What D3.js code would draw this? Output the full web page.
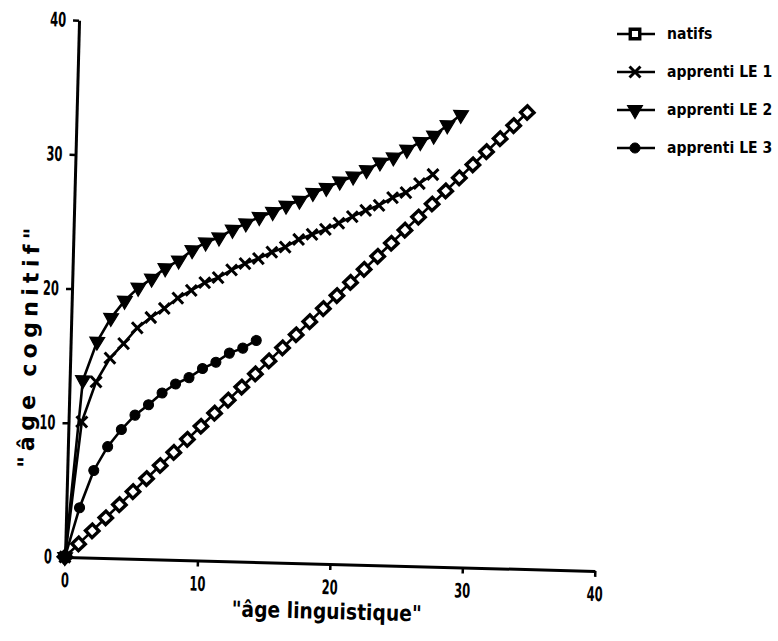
<!DOCTYPE html>
<html>
<head>
<meta charset="utf-8">
<script src="https://cdn.jsdelivr.net/npm/d3@7"></script>
<style>
  body { margin: 0; background: #fff; }
  svg { display: block; }
  text { font-family: "DejaVu Sans", "Liberation Sans", sans-serif; font-weight: bold; fill: #000; }
</style>
</head>
<body>
<div id="chart"></div>
<script>
// values
const natifsX = [0,1,2,3,4,5,6,7,8,9,10,11,12,13,14,15,16,17,18,19,20,21,22,23,24,25,26,27,28,29,30,31,32,33,34];
const natifsY = [0,1,2,3,4,5,6,7,8,9,10,11,12,13,14,15,16,17,18,19,20,21,22,23,24,25,26,27,28,29,30,31,32,33,34];

const le1X = [0,1,2,3,4,5,6,7,8,9,10,11,12,13,14,15,16,17,18,19,20,21,22,23,24,25,26,27];
const le1Y = [0,10.1,13.1,14.9,16.0,17.2,18.0,18.7,19.5,20.1,20.7,21.1,21.7,22.2,22.6,23.1,23.5,24.1,24.5,24.9,25.4,25.9,26.4,26.8,27.4,27.8,28.5,29.2];

const le2X = [0,1,2,3,4,5,6,7,8,9,10,11,12,13,14,15,16,17,18,19,20,21,22,23,24,25,26,27,28,29];
const le2Y = [0,13.2,16.1,17.9,19.2,20.2,20.9,21.7,22.3,23.1,23.7,24.1,24.7,25.2,25.7,26.1,26.6,27.0,27.6,28.0,28.5,28.9,29.4,30.0,30.4,31.0,31.6,32.1,32.9,33.7];

const le3X = [0,1,2,3,4,5,6,7,8,9,10,11,12,13,14];
const le3Y = [0,3.7,6.5,8.3,9.6,10.7,11.5,12.4,13.1,13.6,14.3,14.8,15.5,15.9,16.5];

const axisTicks = [0, 10, 20, 30, 40];
const seriesNames = ["natifs", "apprenti LE 1", "apprenti LE 2", "apprenti LE 3"];

const width = 778, height = 641;
const x0 = 65, y0 = 557;

const svg = d3.select("#chart").append("svg")
    .attr("width", width)
    .attr("height", height);

const xScale = d3.scaleLinear().domain([0, 40]).range([x0, 595]);
const yScale = d3.scaleLinear().domain([0, 40]).range([y0, 20]);

// the scan is slightly tilted
const plot = svg.append("g")
    .attr("transform", `rotate(1.5, ${x0}, ${y0})`);

const xAxis = plot.append("g")
    .attr("transform", `translate(0, ${y0})`)
    .call(d3.axisBottom(xScale).tickValues(axisTicks).tickSize(6).tickSizeOuter(0).tickPadding(10));

const yAxis = plot.append("g")
    .attr("transform", `translate(${x0}, 0)`)
    .call(d3.axisLeft(yScale).tickValues(axisTicks).tickSize(6).tickSizeOuter(0).tickPadding(7));

[xAxis, yAxis].forEach(g => {
    g.attr("font-family", null).attr("font-size", null);
    g.select(".domain").attr("stroke", "#000").attr("stroke-width", 3);
    g.selectAll(".tick line").attr("stroke", "#000").attr("stroke-width", 2.5);
    g.selectAll(".tick text")
        .style("font-size", "20px")
        .attr("textLength", d => String(d).length * 8)
        .attr("lengthAdjust", "spacingAndGlyphs");
});
xAxis.selectAll(".tick").filter(d => d === 0).select("line").remove();
yAxis.selectAll(".tick").filter(d => d === 0).select("line").remove();

plot.append("text")
    .attr("x", 328)
    .attr("y", y0 + 55)
    .style("text-anchor", "middle")
    .style("font-size", "22px")
    .attr("textLength", 190)
    .attr("lengthAdjust", "spacingAndGlyphs")
    .text("\"âge linguistique\"");

plot.append("text")
    .attr("transform", `translate(31, ${yScale(15.5)}) rotate(-90)`)
    .style("text-anchor", "middle")
    .style("font-size", "22px")
    .attr("textLength", 240)
    .attr("lengthAdjust", "spacing")
    .text("\"âge cognitif\"");

const line = d3.line()
    .x(d => xScale(d[0]))
    .y(d => yScale(d[1]));

const series = [
    { name: seriesNames[0], pts: d3.zip(natifsX, natifsY), sym: d3.symbolSquare, size: 90, fill: "#fff", sw: 3.4, rot: 45 },
    { name: seriesNames[1], pts: d3.zip(le1X, le1Y), sym: d3.symbolX, size: 80, fill: "none", sw: 3, rot: 0 },
    { name: seriesNames[2], pts: d3.zip(le2X, le2Y), sym: d3.symbolTriangle, size: 95, fill: "#000", sw: 1.2, rot: 180 },
    { name: seriesNames[3], pts: d3.zip(le3X, le3Y), sym: d3.symbolCircle, size: 80, fill: "#000", sw: 1, rot: 0 }
];

series.forEach(s => {
    plot.append("path")
        .datum(s.pts)
        .attr("fill", "none")
        .attr("stroke", "#000")
        .attr("stroke-width", 2.6)
        .attr("d", line);

    plot.selectAll(null)
        .data(s.pts)
        .enter()
        .append("path")
        .attr("d", d3.symbol().type(s.sym).size(s.size))
        .attr("transform", d => `translate(${xScale(d[0])}, ${yScale(d[1])}) rotate(${s.rot})`)
        .attr("fill", s.fill)
        .attr("stroke", "#000")
        .attr("stroke-width", s.sw);
});

// origin blob
plot.append("circle")
    .attr("cx", xScale(0))
    .attr("cy", yScale(0))
    .attr("r", 5.5)
    .attr("fill", "#000");

// legend
const legend = svg.append("g").attr("transform", "translate(617, 34)");
series.forEach((s, i) => {
    const g = legend.append("g").attr("transform", `translate(0, ${i * 38})`);
    g.append("line")
        .attr("x1", 0).attr("x2", 38)
        .attr("y1", 0).attr("y2", 0)
        .attr("stroke", "#000")
        .attr("stroke-width", 2.6);
    g.append("path")
        .attr("d", d3.symbol().type(s.sym).size(s.size))
        .attr("transform", `translate(18, 0) rotate(${i === 0 ? 0 : s.rot})`)
        .attr("fill", s.fill)
        .attr("stroke", "#000")
        .attr("stroke-width", s.sw);
    g.append("text")
        .attr("transform", "translate(50, 0) scale(1, 1.1)")
        .attr("dy", "0.35em")
        .style("font-size", "14px")
        .text(s.name);
});
</script>
</body>
</html>
